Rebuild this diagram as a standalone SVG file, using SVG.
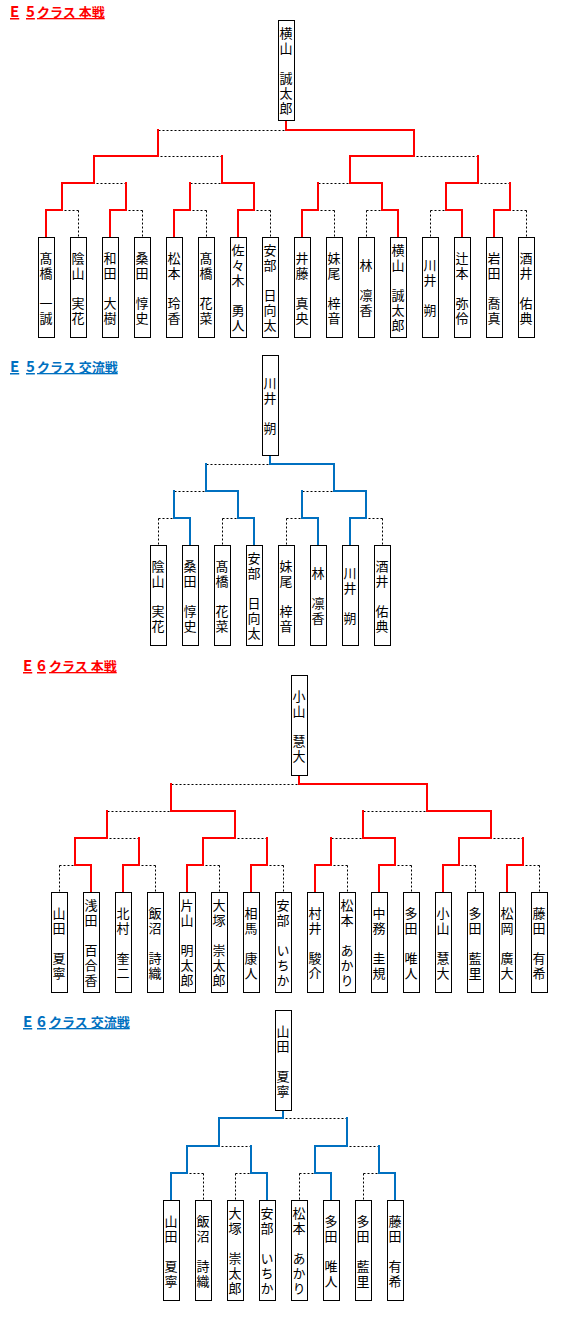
<svg xmlns="http://www.w3.org/2000/svg" width="570" height="1320" viewBox="0 0 570 1320">
<style>
.bx{fill:#fff;stroke:#000;stroke-width:1}
.nm{font-family:"Noto Sans CJK JP","Noto Sans CJK SC",sans-serif;font-size:13px;writing-mode:vertical-rl;text-anchor:middle;letter-spacing:2px;fill:#000}
.r{stroke:#ff0000;stroke-width:2;fill:none;stroke-linecap:square}
.b{stroke:#0070c0;stroke-width:2;fill:none;stroke-linecap:square}
.d{stroke:#000;stroke-width:1;fill:none;stroke-dasharray:2 2}
.ttl{font-family:"Noto Sans CJK JP","Noto Sans CJK SC",sans-serif;font-size:13px;font-weight:bold;text-decoration:underline}
.big{font-size:15px}
.tr{fill:#ff0000}
.tb{fill:#0070c0}
</style>
<rect width="570" height="1320" fill="#fff"/>

<text class="ttl tr" y="17"><tspan class="big" x="10">E</tspan><tspan class="big" x="26">5</tspan><tspan x="37">クラス 本戦</tspan></text>
<text class="ttl tb" y="372"><tspan class="big" x="10">E</tspan><tspan class="big" x="26">5</tspan><tspan x="37">クラス 交流戦</tspan></text>
<text class="ttl tr" y="671"><tspan class="big" x="23">E</tspan><tspan class="big" x="37">6</tspan><tspan x="49">クラス 本戦</tspan></text>
<text class="ttl tb" y="1027"><tspan class="big" x="23">E</tspan><tspan class="big" x="37">6</tspan><tspan x="49">クラス 交流戦</tspan></text>

<g id="connectors">
<!-- E5 本戦 -->
<path class="d" transform="translate(0.5,0.5)" d="M78,210H62M78,210V237M142,210H126M142,210V237M206,210H190M206,210V237M270,210H254M270,210V237M334,210H318M334,210V237M366,210H382M366,210V237M430,210H446M430,210V237M526,210H510M526,210V237M126,183H94M190,183H222M318,183H350M510,183H478M222,156H158M478,156H414M158,130H286"/>
<path class="r" d="M46,237V210H62M110,237V210H126M174,237V210H190M238,237V210H254M302,237V210H318M398,237V210H382M462,237V210H446M494,237V210H510M62,210V183H94M126,210V183M254,210V183H222M190,210V183M382,210V183H350M318,210V183M446,210V183H478M510,210V183M94,183V156H158M222,183V156M350,183V156H414M478,183V156M414,156V130H286M158,156V130M286,120V130"/>
<!-- E5 交流戦 -->
<path class="d" transform="translate(0.5,0.5)" d="M158,518H174M158,518V545M222,518H238M222,518V545M286,518H302M286,518V545M382,518H366M382,518V545M174,491H206M302,491H334M206,464H270"/>
<path class="b" d="M190,545V518H174M254,545V518H238M318,545V518H302M350,545V518H366M238,518V491H206M174,518V491M366,518V491H334M302,518V491M334,491V464H270M206,491V464M270,455V464"/>
<!-- E6 本戦 -->
<path class="d" transform="translate(0.5,0.5)" d="M59,865H75M59,865V892M155,865H139M155,865V892M219,865H203M219,865V892M283,865H267M283,865V892M347,865H331M347,865V892M411,865H395M411,865V892M475,865H459M475,865V892M539,865H523M539,865V892M139,838H107M267,838H235M331,838H363M523,838H491M107,811H171M363,811H427M171,784H299"/>
<path class="r" d="M91,892V865H75M123,892V865H139M187,892V865H203M251,892V865H267M315,892V865H331M379,892V865H395M443,892V865H459M507,892V865H523M75,865V838H107M139,865V838M203,865V838H235M267,865V838M395,865V838H363M331,865V838M459,865V838H491M523,865V838M235,838V811H171M107,838V811M491,838V811H427M363,838V811M427,811V784H299M171,811V784M299,775V784"/>
<!-- E6 交流戦 -->
<path class="d" transform="translate(0.5,0.5)" d="M203,1173H187M203,1173V1200M235,1173H251M235,1173V1200M299,1173H315M299,1173V1200M363,1173H379M363,1173V1200M251,1146H219M379,1146H347M347,1118H283"/>
<path class="b" d="M171,1200V1173H187M267,1200V1173H251M331,1200V1173H315M395,1200V1173H379M187,1173V1146H219M251,1173V1146M315,1173V1146H347M379,1173V1146M219,1146V1118H283M347,1146V1118M283,1110V1118"/>
</g>

<!-- E5 本戦 nodes -->
<g id="e5h-champ"><rect class="bx" x="278.5" y="20.5" width="16" height="100"/><text class="nm" x="286" y="72">横山　誠太郎</text></g>
<g id="e5h-p1"><rect class="bx" x="38.5" y="237.5" width="16" height="100"/><text class="nm" x="46" y="289">髙橋　一誠</text></g>
<g id="e5h-p2"><rect class="bx" x="70.5" y="237.5" width="16" height="100"/><text class="nm" x="78" y="289">陰山　実花</text></g>
<g id="e5h-p3"><rect class="bx" x="102.5" y="237.5" width="16" height="100"/><text class="nm" x="110" y="289">和田　大樹</text></g>
<g id="e5h-p4"><rect class="bx" x="134.5" y="237.5" width="16" height="100"/><text class="nm" x="142" y="289">桑田　惇史</text></g>
<g id="e5h-p5"><rect class="bx" x="166.5" y="237.5" width="16" height="100"/><text class="nm" x="174" y="289">松本　玲香</text></g>
<g id="e5h-p6"><rect class="bx" x="198.5" y="237.5" width="16" height="100"/><text class="nm" x="206" y="289">髙橋　花菜</text></g>
<g id="e5h-p7"><rect class="bx" x="230.5" y="237.5" width="16" height="100"/><text class="nm" x="238" y="289">佐々木　勇人</text></g>
<g id="e5h-p8"><rect class="bx" x="262.5" y="237.5" width="16" height="100"/><text class="nm" x="270" y="289">安部　日向太</text></g>
<g id="e5h-p9"><rect class="bx" x="294.5" y="237.5" width="16" height="100"/><text class="nm" x="302" y="289">井藤　真央</text></g>
<g id="e5h-p10"><rect class="bx" x="326.5" y="237.5" width="16" height="100"/><text class="nm" x="334" y="289">妹尾　梓音</text></g>
<g id="e5h-p11"><rect class="bx" x="358.5" y="237.5" width="16" height="100"/><text class="nm" x="366" y="289">林　凛香</text></g>
<g id="e5h-p12"><rect class="bx" x="390.5" y="237.5" width="16" height="100"/><text class="nm" x="398" y="289">横山　誠太郎</text></g>
<g id="e5h-p13"><rect class="bx" x="422.5" y="237.5" width="16" height="100"/><text class="nm" x="430" y="289">川井　朔</text></g>
<g id="e5h-p14"><rect class="bx" x="454.5" y="237.5" width="16" height="100"/><text class="nm" x="462" y="289">辻本　弥伶</text></g>
<g id="e5h-p15"><rect class="bx" x="486.5" y="237.5" width="16" height="100"/><text class="nm" x="494" y="289">岩田　喬真</text></g>
<g id="e5h-p16"><rect class="bx" x="518.5" y="237.5" width="16" height="100"/><text class="nm" x="526" y="289">酒井　佑典</text></g>

<!-- E5 交流戦 nodes -->
<g id="e5k-champ"><rect class="bx" x="262.5" y="355.5" width="16" height="100"/><text class="nm" x="270" y="407">川井　朔</text></g>
<g id="e5k-p1"><rect class="bx" x="150.5" y="545.5" width="16" height="100"/><text class="nm" x="158" y="597">陰山　実花</text></g>
<g id="e5k-p2"><rect class="bx" x="182.5" y="545.5" width="16" height="100"/><text class="nm" x="190" y="597">桑田　惇史</text></g>
<g id="e5k-p3"><rect class="bx" x="214.5" y="545.5" width="16" height="100"/><text class="nm" x="222" y="597">髙橋　花菜</text></g>
<g id="e5k-p4"><rect class="bx" x="246.5" y="545.5" width="16" height="100"/><text class="nm" x="254" y="597">安部　日向太</text></g>
<g id="e5k-p5"><rect class="bx" x="278.5" y="545.5" width="16" height="100"/><text class="nm" x="286" y="597">妹尾　梓音</text></g>
<g id="e5k-p6"><rect class="bx" x="310.5" y="545.5" width="16" height="100"/><text class="nm" x="318" y="597">林　凛香</text></g>
<g id="e5k-p7"><rect class="bx" x="342.5" y="545.5" width="16" height="100"/><text class="nm" x="350" y="597">川井　朔</text></g>
<g id="e5k-p8"><rect class="bx" x="374.5" y="545.5" width="16" height="100"/><text class="nm" x="382" y="597">酒井　佑典</text></g>

<!-- E6 本戦 nodes -->
<g id="e6h-champ"><rect class="bx" x="291.5" y="675.5" width="16" height="100"/><text class="nm" x="299" y="727">小山　慧大</text></g>
<g id="e6h-p1"><rect class="bx" x="51.5" y="892.5" width="16" height="100"/><text class="nm" x="59" y="944">山田　夏寧</text></g>
<g id="e6h-p2"><rect class="bx" x="83.5" y="892.5" width="16" height="100"/><text class="nm" x="91" y="944">浅田　百合香</text></g>
<g id="e6h-p3"><rect class="bx" x="115.5" y="892.5" width="16" height="100"/><text class="nm" x="123" y="944">北村　奎二</text></g>
<g id="e6h-p4"><rect class="bx" x="147.5" y="892.5" width="16" height="100"/><text class="nm" x="155" y="944">飯沼　詩織</text></g>
<g id="e6h-p5"><rect class="bx" x="179.5" y="892.5" width="16" height="100"/><text class="nm" x="187" y="944">片山　明太郎</text></g>
<g id="e6h-p6"><rect class="bx" x="211.5" y="892.5" width="16" height="100"/><text class="nm" x="219" y="944">大塚　崇太郎</text></g>
<g id="e6h-p7"><rect class="bx" x="243.5" y="892.5" width="16" height="100"/><text class="nm" x="251" y="944">相馬　康人</text></g>
<g id="e6h-p8"><rect class="bx" x="275.5" y="892.5" width="16" height="100"/><text class="nm" x="283" y="944">安部　いちか</text></g>
<g id="e6h-p9"><rect class="bx" x="307.5" y="892.5" width="16" height="100"/><text class="nm" x="315" y="944">村井　駿介</text></g>
<g id="e6h-p10"><rect class="bx" x="339.5" y="892.5" width="16" height="100"/><text class="nm" x="347" y="944">松本　あかり</text></g>
<g id="e6h-p11"><rect class="bx" x="371.5" y="892.5" width="16" height="100"/><text class="nm" x="379" y="944">中務　圭規</text></g>
<g id="e6h-p12"><rect class="bx" x="403.5" y="892.5" width="16" height="100"/><text class="nm" x="411" y="944">多田　唯人</text></g>
<g id="e6h-p13"><rect class="bx" x="435.5" y="892.5" width="16" height="100"/><text class="nm" x="443" y="944">小山　慧大</text></g>
<g id="e6h-p14"><rect class="bx" x="467.5" y="892.5" width="16" height="100"/><text class="nm" x="475" y="944">多田　藍里</text></g>
<g id="e6h-p15"><rect class="bx" x="499.5" y="892.5" width="16" height="100"/><text class="nm" x="507" y="944">松岡　廣大</text></g>
<g id="e6h-p16"><rect class="bx" x="531.5" y="892.5" width="16" height="100"/><text class="nm" x="539" y="944">藤田　有希</text></g>

<!-- E6 交流戦 nodes -->
<g id="e6k-champ"><rect class="bx" x="275.5" y="1010.5" width="16" height="100"/><text class="nm" x="283" y="1062">山田　夏寧</text></g>
<g id="e6k-p1"><rect class="bx" x="163.5" y="1200.5" width="16" height="100"/><text class="nm" x="171" y="1252">山田　夏寧</text></g>
<g id="e6k-p2"><rect class="bx" x="195.5" y="1200.5" width="16" height="100"/><text class="nm" x="203" y="1252">飯沼　詩織</text></g>
<g id="e6k-p3"><rect class="bx" x="227.5" y="1200.5" width="16" height="100"/><text class="nm" x="235" y="1252">大塚　崇太郎</text></g>
<g id="e6k-p4"><rect class="bx" x="259.5" y="1200.5" width="16" height="100"/><text class="nm" x="267" y="1252">安部　いちか</text></g>
<g id="e6k-p5"><rect class="bx" x="291.5" y="1200.5" width="16" height="100"/><text class="nm" x="299" y="1252">松本　あかり</text></g>
<g id="e6k-p6"><rect class="bx" x="323.5" y="1200.5" width="16" height="100"/><text class="nm" x="331" y="1252">多田　唯人</text></g>
<g id="e6k-p7"><rect class="bx" x="355.5" y="1200.5" width="16" height="100"/><text class="nm" x="363" y="1252">多田　藍里</text></g>
<g id="e6k-p8"><rect class="bx" x="387.5" y="1200.5" width="16" height="100"/><text class="nm" x="395" y="1252">藤田　有希</text></g>
</svg>
